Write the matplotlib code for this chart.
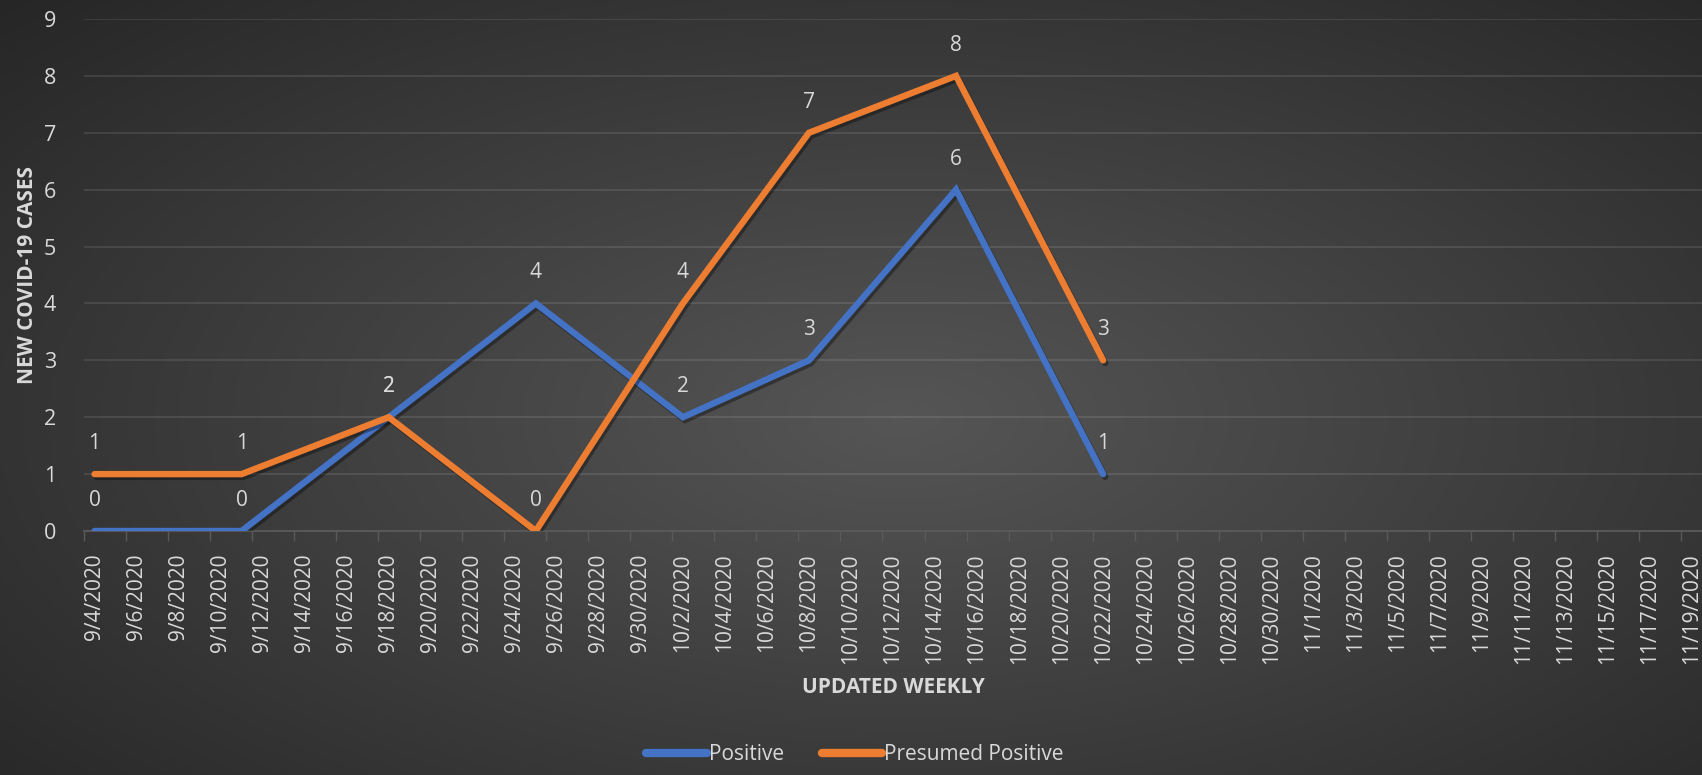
import datetime as dt

import matplotlib
matplotlib.use("Agg")
import matplotlib.pyplot as plt
import matplotlib.dates as mdates
import matplotlib.patheffects as pe
import numpy as np
from matplotlib.ticker import FuncFormatter, MultipleLocator

# data
dates = ["2020-09-04", "2020-09-11", "2020-09-18", "2020-09-25",
         "2020-10-02", "2020-10-08", "2020-10-15", "2020-10-22"]
positive = [0, 0, 2, 4, 2, 3, 6, 1]
presumed = [1, 1, 2, 0, 4, 7, 8, 3]
series_names = ["Positive", "Presumed Positive"]
colors = ["#4472C4", "#ED7D31"]

axis_start = "2020-09-04"
axis_end = "2020-11-19"

TEXT = "#d9d9d9"

plt.rcParams["font.family"] = ["Open Sans", "DejaVu Sans"]

x = [mdates.date2num(dt.date.fromisoformat(d)) for d in dates]
x0 = mdates.date2num(dt.date.fromisoformat(axis_start))
x1 = mdates.date2num(dt.date.fromisoformat(axis_end))

fig = plt.figure(figsize=(17.02, 7.75), dpi=100)

# radial grey background like the Excel theme
bg = fig.add_axes([0, 0, 1, 1], zorder=-10)
yy, xx = np.mgrid[0:1:400j, 0:1:800j]
r = np.sqrt(((xx - 0.53) / 0.75) ** 2 + ((yy - 0.46) / 0.8) ** 2)
shade = np.clip(0.335 - 0.19 * r, 0.14, 0.34)
bg.imshow(np.dstack([shade] * 3), aspect="auto", extent=[0, 1, 0, 1], origin="lower")
bg.set_axis_off()

ax = fig.add_axes([84 / 1702, 1 - 531 / 775, 1 - 84 / 1702, (531 - 19) / 775])
ax.patch.set_alpha(0)

shadow = [pe.SimpleLineShadow(offset=(1.5, -2), shadow_color="black", alpha=0.35), pe.Normal()]
for vals, name, c in zip([positive, presumed], series_names, colors):
    ax.plot(x, vals, color=c, lw=4.6, label=name, solid_capstyle="round",
            solid_joinstyle="miter", path_effects=shadow, zorder=3)
    for xi, v in zip(x, vals):
        ax.annotate(str(v), (xi, v), xytext=(0, 22), textcoords="offset points",
                    ha="center", va="center", color=TEXT, fontsize=15, zorder=4)

ax.set_xlim(x0 - 0.5, x1 + 0.5)
ax.set_ylim(0, 9)

ax.set_xticks(np.arange(x0, x1 + 1, 2))
ax.xaxis.set_major_formatter(FuncFormatter(
    lambda v, _: "{d.month}/{d.day}/{d.year}".format(d=mdates.num2date(v))))
ax.set_xticks(np.arange(x0 - 0.5, x1 + 1, 2), minor=True)
ax.tick_params(axis="x", which="major", length=0, pad=16, labelsize=15,
               labelcolor=TEXT, rotation=90)
ax.tick_params(axis="x", which="minor", length=7, width=1, color="#5a5a5a")
ax.yaxis.set_major_locator(MultipleLocator(1))
ax.tick_params(axis="y", length=0, pad=20, labelsize=15.5, labelcolor=TEXT)

ax.grid(axis="y", color="white", alpha=0.11, lw=1.3)
ax.set_axisbelow(True)
for side in ["top", "right", "left"]:
    ax.spines[side].set_visible(False)
ax.spines["bottom"].set_color("#5a5a5a")
ax.spines["bottom"].set_linewidth(1.3)

ax.set_ylabel("NEW COVID-19 CASES", color=TEXT, fontsize=15, fontweight="bold")
ax.yaxis.set_label_coords(-(84 - 38) / (1702 - 84), 0.5)
ax.set_xlabel("UPDATED WEEKLY", color=TEXT, fontsize=15, fontweight="bold")
ax.xaxis.set_label_coords(0.5, -(677 - 531) / 512)

leg = fig.legend(loc="center", bbox_to_anchor=(855 / 1702, 1 - 755 / 775), ncol=2,
                 frameon=False, fontsize=15, labelcolor=TEXT, handlelength=2.9,
                 handletextpad=0.1, columnspacing=1.8)
for h in leg.get_lines():
    h.set_linewidth(6)
    h.set_path_effects([])
    h.set_solid_capstyle("round")

fig.savefig("out.png", dpi=100)
